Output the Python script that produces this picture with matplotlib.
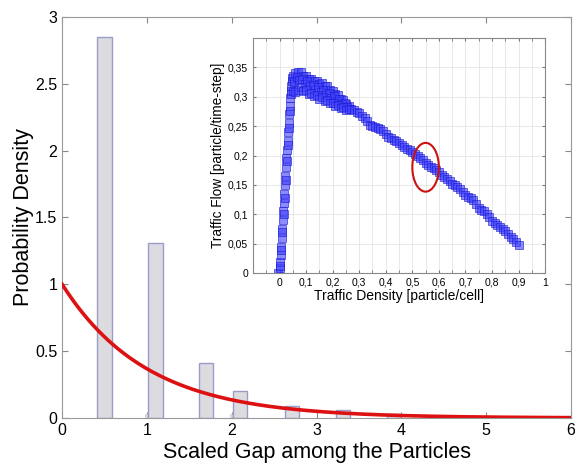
import numpy as np
import matplotlib
matplotlib.use('Agg')
import matplotlib.pyplot as plt
from matplotlib.patches import Ellipse
from matplotlib.ticker import FuncFormatter, MultipleLocator

plt.rcParams['font.family'] = ['Liberation Sans', 'DejaVu Sans']

# histogram of scaled gaps
bar_x = [0.5, 1.1, 1.7, 2.1, 2.71, 3.31, 3.91]
bar_h = [2.85, 1.31, 0.41, 0.20, 0.09, 0.06, 0.03]
sliver_x = [0.99, 1.99]
sliver_h = [0.03, 0.03]

# exponential density (rate: 1 at 0, ~0.37 at 1)
rate = 1.0

# fundamental diagram (inset)
rise_x = [-0.004, 0.0, 0.002, 0.004, 0.006, 0.008, 0.010, 0.012, 0.014, 0.016,
          0.018, 0.020, 0.022, 0.024, 0.026, 0.028, 0.030, 0.032, 0.034, 0.036,
          0.038, 0.040, 0.042, 0.044, 0.046, 0.048]
rise_y = [0.0, 0.008, 0.018, 0.03, 0.045, 0.06, 0.075, 0.09, 0.105, 0.12,
          0.135, 0.15, 0.165, 0.18, 0.195, 0.21, 0.225, 0.24, 0.255, 0.27,
          0.285, 0.298, 0.31, 0.318, 0.326, 0.332]
rise_x2 = [0.003, 0.007, 0.011, 0.015, 0.019, 0.023, 0.027, 0.031, 0.035, 0.039, 0.043]
rise_y2 = [0.012, 0.04, 0.07, 0.1, 0.128, 0.158, 0.19, 0.218, 0.246, 0.276, 0.305]
band_x = [0.05, 0.06, 0.07, 0.08, 0.09, 0.10, 0.11, 0.12, 0.13, 0.14, 0.15,
          0.16, 0.17, 0.18, 0.19, 0.20, 0.21, 0.22, 0.23, 0.24, 0.25, 0.26]
band_hi = [0.335, 0.34, 0.343, 0.342, 0.336, 0.335, 0.33, 0.331, 0.326, 0.326, 0.322,
           0.324, 0.319, 0.318, 0.311, 0.31, 0.305, 0.303, 0.296, 0.294, 0.288, 0.284]
band_x2 = [0.055, 0.065, 0.075, 0.085, 0.095, 0.105, 0.115, 0.125, 0.135, 0.145, 0.155,
           0.165, 0.175, 0.185, 0.195, 0.205, 0.215, 0.225, 0.235, 0.245, 0.255]
band_mid = [0.325, 0.333, 0.328, 0.33, 0.322, 0.326, 0.318, 0.32, 0.312, 0.316, 0.308,
            0.312, 0.303, 0.307, 0.298, 0.301, 0.293, 0.296, 0.287, 0.29, 0.282]
band_lo = [0.31, 0.308, 0.312, 0.316, 0.31, 0.312, 0.305, 0.307, 0.301, 0.303, 0.296,
           0.299, 0.293, 0.295, 0.289, 0.29, 0.285, 0.286, 0.281, 0.282, 0.277, 0.279]
fall_x = [0.27, 0.28, 0.29, 0.30, 0.31, 0.32, 0.33, 0.34, 0.35, 0.36, 0.37, 0.38,
          0.39, 0.40, 0.41, 0.42, 0.43, 0.44, 0.45, 0.46, 0.47, 0.48, 0.49, 0.50,
          0.51, 0.52, 0.53, 0.54, 0.55, 0.56, 0.57, 0.58, 0.59, 0.60, 0.61, 0.62,
          0.63, 0.64, 0.65, 0.66, 0.67, 0.68, 0.69, 0.70, 0.71, 0.72, 0.73, 0.74,
          0.75, 0.76, 0.77, 0.78, 0.79, 0.80, 0.81, 0.82, 0.83, 0.84, 0.85, 0.86,
          0.87, 0.88, 0.89, 0.90]
fall_y = [0.279, 0.277, 0.274, 0.272, 0.268, 0.264, 0.258, 0.252, 0.25, 0.249, 0.247, 0.245,
          0.242, 0.237, 0.232, 0.229, 0.226, 0.224, 0.221, 0.218, 0.214, 0.211, 0.209, 0.206,
          0.203, 0.199, 0.196, 0.192, 0.188, 0.184, 0.181, 0.178, 0.175, 0.172, 0.167, 0.163,
          0.16, 0.156, 0.152, 0.15, 0.147, 0.143, 0.138, 0.132, 0.13, 0.128, 0.124, 0.118,
          0.111, 0.107, 0.105, 0.101, 0.095, 0.089, 0.085, 0.082, 0.079, 0.075, 0.071, 0.066,
          0.061, 0.058, 0.052, 0.047]

fig = plt.figure(figsize=(5.75, 4.67), dpi=100)
ax = fig.add_axes([0.108, 0.105, 0.885, 0.859])

ax.bar(bar_x, bar_h, width=0.17, color='#dcdce0', edgecolor='#9c9cc8', linewidth=1, zorder=2)
ax.bar(sliver_x, sliver_h, width=0.03, color='#dcdce0', edgecolor='#c8c8d8', linewidth=0.5, zorder=2)

xs = np.linspace(0, 6, 300)
ax.plot(xs, rate * np.exp(-rate * xs), color='#dd1111', linewidth=2.6, zorder=3)

ax.set_xlim(0, 6)
ax.set_ylim(0, 3)
ax.set_xticks(range(7))
ax.set_yticks([0, 0.5, 1, 1.5, 2, 2.5, 3])
ax.set_yticklabels(['0', '0.5', '1', '1.5', '2', '2.5', '3'])
ax.tick_params(direction='in', top=True, right=True, labelsize=11.5, color='#888888', length=4)
for s in ax.spines.values():
    s.set_color('#999999')
ax.set_xlabel('Scaled Gap among the Particles', fontsize=15.5, labelpad=3)
ax.set_ylabel('Probability Density', fontsize=15.5, labelpad=1)

# inset
ins = fig.add_axes([0.44, 0.4154, 0.508, 0.5032])
mk = dict(ms=6, mfc=(0.25, 0.25, 1.0, 0.6), mec=(0.1, 0.1, 0.8, 0.6), mew=0.7, ls='none')
ins.plot(rise_x, rise_y, 's', **mk)
ins.plot(rise_x2, rise_y2, 's', **mk)
ins.plot(band_x, band_hi, 's', **mk)
ins.plot(band_x2, band_mid, 's', **mk)
ins.plot(band_x, band_lo, 's', **mk)
ins.plot(fall_x, fall_y, 's', **mk)

ins.add_patch(Ellipse((0.55, 0.18), 0.1, 0.083, fill=False, edgecolor='#cc1111', linewidth=1.5, zorder=5))

ins.set_xlim(-0.1, 1.0)
ins.set_ylim(0, 0.4)
ins.set_xticks([0, 0.1, 0.2, 0.3, 0.4, 0.5, 0.6, 0.7, 0.8, 0.9, 1.0])
ins.set_yticks([0, 0.05, 0.1, 0.15, 0.2, 0.25, 0.3, 0.35])
ins.xaxis.set_minor_locator(MultipleLocator(0.05))
fmt = FuncFormatter(lambda v, p: ('%g' % round(v, 2)).replace('.', ','))
ins.xaxis.set_major_formatter(fmt)
ins.yaxis.set_major_formatter(fmt)
ins.grid(True, which='both', color='#e4e4e4', linewidth=0.6)
ins.set_axisbelow(True)
ins.tick_params(which='both', direction='in', top=True, right=True, labelsize=7.5,
                color='#777777', length=2.5)
for s in ins.spines.values():
    s.set_color('#888888')
ins.set_xlabel('Traffic Density [particle/cell]', fontsize=10, labelpad=1)
ins.set_ylabel('Traffic Flow [particle/time-step]', fontsize=9.8, labelpad=2)

fig.savefig('out.png', dpi=100)
